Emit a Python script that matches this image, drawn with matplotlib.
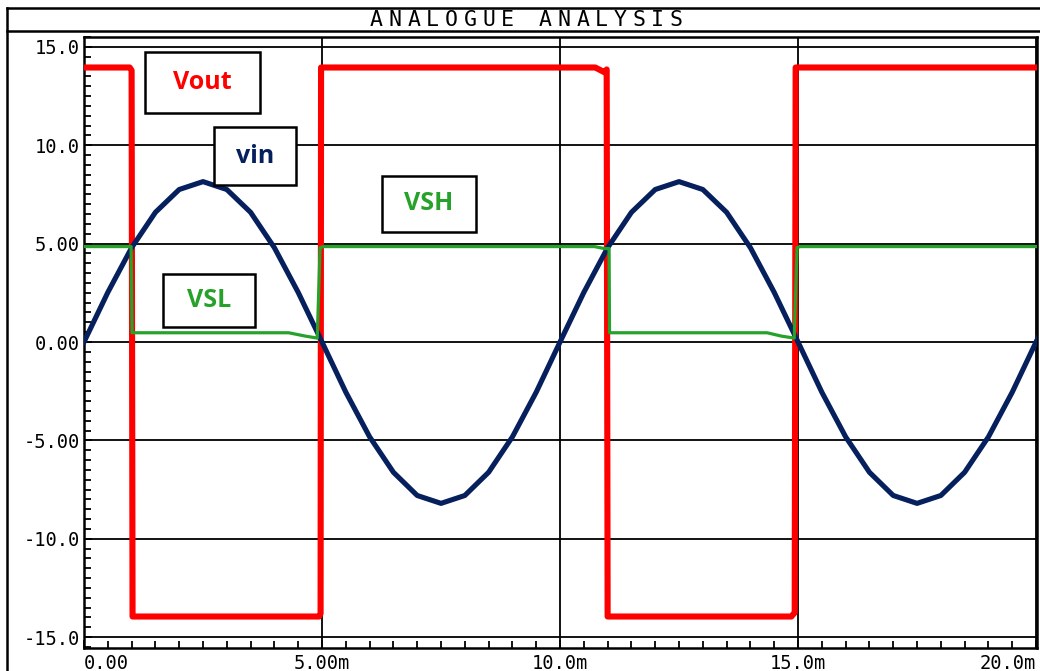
import matplotlib.pyplot as plt
from matplotlib.patches import Rectangle
from matplotlib.lines import Line2D
from matplotlib.ticker import MultipleLocator

# time axis in ms
vout_t = [0, 0.96, 1.0, 1.02, 4.94, 4.97, 4.98, 10.74, 10.94, 10.98, 11.0, 14.86, 14.93, 14.95, 20.1]
vout_v = [13.95, 13.95, 13.8, -13.95, -13.95, -13.8, 13.95, 13.95, 13.7, 13.85, -13.95, -13.95, -13.75, 13.95, 13.95]

vin_t = [i * 0.5 for i in range(42)]
vin_v = [0, 2.52, 4.79, 6.59, 7.75, 8.15, 7.75, 6.59, 4.79, 2.52,
         0, -2.55, -4.82, -6.62, -7.8, -8.2, -7.8, -6.62, -4.82, -2.55,
         0, 2.52, 4.79, 6.59, 7.75, 8.15, 7.75, 6.59, 4.79, 2.52,
         0, -2.55, -4.82, -6.62, -7.8, -8.2, -7.8, -6.62, -4.82, -2.55,
         0, 2.52]

vs_t = [0, 0.99, 1.01, 4.3, 4.65, 4.9, 4.96, 5.04, 10.72, 10.93, 11.03, 11.04,
        14.35, 14.65, 14.92, 14.98, 15.05, 20.1]
vs_v = [4.85, 4.85, 0.47, 0.47, 0.3, 0.2, 4.8, 4.85, 4.85, 4.75, 4.75, 0.47,
        0.47, 0.3, 0.2, 4.8, 4.85, 4.85]

xticks = [0, 5, 10, 15, 20]
xlabels = ['0.00', '5.00m', '10.0m', '15.0m', '20.0m']
yticks = [-15, -10, -5, 0, 5, 10, 15]
ylabels = ['-15.0', '-10.0', '-5.00', '0.00', '5.00', '10.0', '15.0']

RED = '#ff0000'
NAVY = '#06205e'
GREEN = '#26a12a'

W, H = 1040, 671
fig = plt.figure(figsize=(W / 100, H / 100), dpi=100)
ax = fig.add_axes([84 / W, 1 - 648 / H, (1037 - 84) / W, (648 - 37) / H])

ax.plot(vout_t, vout_v, color=RED, lw=4.4, solid_joinstyle='round', zorder=3)
ax.plot(vin_t, vin_v, color=NAVY, lw=3.7, solid_joinstyle='round', zorder=4)
ax.plot(vs_t, vs_v, color=GREEN, lw=2.3, solid_joinstyle='round', zorder=5)

ax.set_xlim(0, 20.02)
ax.set_ylim(-15.55, 15.5)
ax.set_xticks(xticks)
ax.set_xticklabels(xlabels)
ax.set_yticks(yticks)
ax.set_yticklabels(ylabels)
ax.xaxis.set_minor_locator(MultipleLocator(0.5))
ax.yaxis.set_minor_locator(MultipleLocator(0.5))
ax.tick_params(which='both', direction='in', width=1.3, color='black')
ax.tick_params(which='major', length=6)
ax.tick_params(which='minor', length=5)
ax.tick_params(axis='x', pad=4)
ax.tick_params(axis='y', pad=3)
for lab in ax.get_xticklabels() + ax.get_yticklabels():
    lab.set_fontfamily('DejaVu Sans Mono')
    lab.set_fontsize(13.5)
ax.get_xticklabels()[0].set_ha('left')
ax.get_xticklabels()[-1].set_ha('right')
ax.grid(True, which='major', color='black', lw=1.3)
ax.set_axisbelow(True)
for sp in ax.spines.values():
    sp.set_linewidth(1.8)

# label boxes (data coords: ms, volts)
labels = [
    ('Vout', 1.28, 3.70, 11.64, 14.74, RED),
    ('vin', 2.73, 4.45, 7.97, 10.93, NAVY),
    ('VSH', 6.26, 8.24, 5.59, 8.44, GREEN),
    ('VSL', 1.66, 3.59, 0.76, 3.46, GREEN),
]
for txt, x0, x1, y0, y1, c in labels:
    ax.add_patch(Rectangle((x0, y0), x1 - x0, y1 - y0, facecolor='white',
                           edgecolor='black', lw=1.8, zorder=6))
    ax.text((x0 + x1) / 2, (y0 + y1) / 2, txt, color=c, fontsize=18,
            fontweight='bold', family='Open Sans', ha='center', va='center', zorder=7)

# outer frame and title band
fig.add_artist(Line2D([7 / W, 7 / W], [0, 1 - 8 / H], color='black', lw=1.8))
fig.add_artist(Line2D([7 / W, 1], [1 - 8 / H, 1 - 8 / H], color='black', lw=1.8))
fig.add_artist(Line2D([7 / W, 1], [1 - 31 / H, 1 - 31 / H], color='black', lw=1.8))

title = 'ANALOGUE ANALYSIS'
pitch = 18.75
for i, ch in enumerate(title):
    fig.text((367 + pitch * (i + 0.5)) / W, 1 - 20 / H, ch, ha='center', va='center',
             fontsize=15.5, family='DejaVu Sans Mono', color='black')

plt.savefig('out.png', dpi=100)
